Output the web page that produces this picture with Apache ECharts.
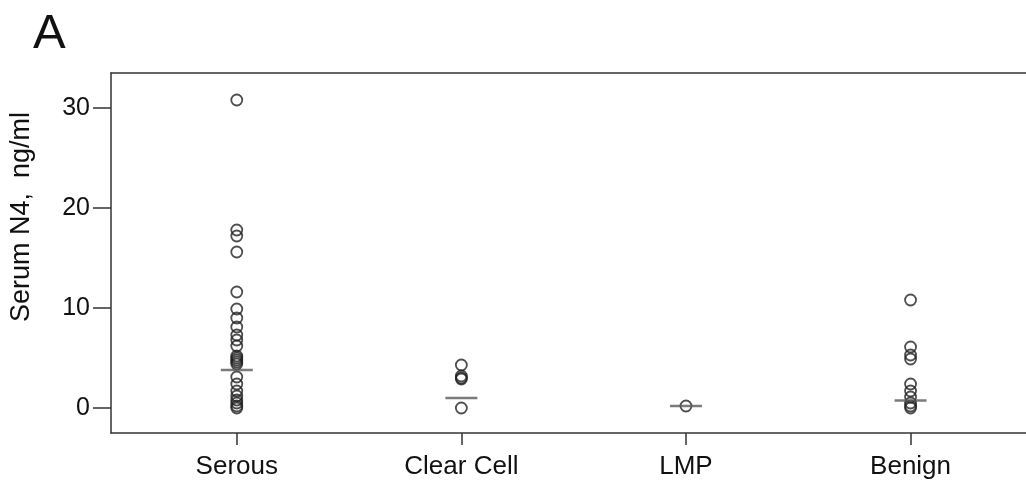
<!DOCTYPE html>
<html><head><meta charset="utf-8">
<script src="https://cdn.jsdelivr.net/npm/echarts@6/dist/echarts.min.js"></script>
<style>html,body{margin:0;padding:0;background:#fff}#c{width:1026px;height:485px}</style>
</head><body><div id="c"></div>
<script>
const categories = ['Serous', 'Clear Cell', 'LMP', 'Benign'];
const serous = [30.8, 17.8, 17.2, 15.6, 11.6, 9.9, 9.0, 8.1, 7.3, 6.8, 6.2, 5.2, 5.0, 4.8, 4.6, 4.4, 3.1, 2.4, 1.7, 1.2, 0.8, 0.5, 0.2, 0.0];
const clearCell = [4.3, 3.2, 3.0, 2.9, 0.0];
const lmp = [0.2];
const benign = [10.8, 6.1, 5.3, 4.9, 2.4, 1.7, 1.1, 0.5, 0.2, 0.0];
const medians = [3.8, 1.0, 0.2, 0.75];
const yTicks = [0, 10, 20, 30];
const yTitle = 'Serum N4,  ng/ml';
const panelLabel = 'A';

const groups = [serous, clearCell, lmp, benign];
const points = [];
groups.forEach((g, i) => g.forEach(v => points.push([i + 1, v])));
const medianPts = medians.map((m, i) => [i + 1, m]);
const xTicks = categories.map((c, i) => i + 1);

const FONT = '"Liberation Sans", Arial, sans-serif';
const chart = echarts.init(document.getElementById('c'), null, {renderer: 'canvas'});
chart.setOption({
  animation: false,
  backgroundColor: '#fff',
  title: {text: panelLabel, left: 28, top: 5, textStyle: {fontFamily: FONT, fontSize: 49, fontWeight: 'normal', color: '#111'}},
  graphic: [{
    type: 'text', x: 22, y: 217, rotation: Math.PI / 2,
    style: {text: yTitle, fontFamily: FONT, fontSize: 27, fill: '#111', align: 'center', verticalAlign: 'middle'}
  }],
  grid: {left: 111, right: 0, top: 73, bottom: 52},
  xAxis: [{
    type: 'value', min: 0.44, max: 4.514,
    splitLine: {show: false},
    axisLine: {show: true, onZero: false, lineStyle: {color: '#333', width: 1.5}},
    axisTick: {show: true, length: 12, customValues: xTicks, lineStyle: {color: '#333', width: 1.5}},
    axisLabel: {show: true, customValues: xTicks, margin: 21, fontFamily: FONT, fontSize: 26, color: '#111',
      formatter: v => categories[Math.round(v) - 1] || ''}
  }, {
    type: 'value', position: 'top', min: 0.44, max: 4.514,
    splitLine: {show: false}, axisTick: {show: false}, axisLabel: {show: false},
    axisLine: {show: true, onZero: false, lineStyle: {color: '#333', width: 1.5}}
  }],
  yAxis: {
    type: 'value', min: -2.5, max: 33.5,
    splitLine: {show: false},
    axisLine: {show: true, onZero: false, lineStyle: {color: '#333', width: 1.5}},
    axisTick: {show: true, length: 18, customValues: yTicks, lineStyle: {color: '#333', width: 1.5}},
    axisLabel: {show: true, customValues: yTicks, margin: 21, fontFamily: FONT, fontSize: 25, color: '#111'}
  },
  series: [{
    type: 'scatter', data: points, symbol: 'circle', symbolSize: 11,
    itemStyle: {color: 'rgba(255,255,255,0)', borderColor: '#222', borderWidth: 1.8}
  }, {
    type: 'scatter', data: medianPts, symbol: 'rect', symbolSize: [32, 2.5], z: 3,
    itemStyle: {color: '#5a5a5a'}
  }]
});
</script></body></html>
